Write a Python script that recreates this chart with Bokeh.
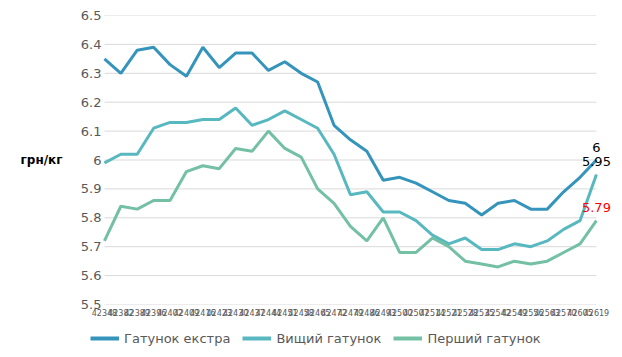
from bokeh.plotting import figure
from bokeh.layouts import column
from bokeh.models import (Range1d, FixedTicker, Legend, LegendItem, Label,
                          ColumnDataSource, LinearAxis)
from bokeh.embed import file_html
from bokeh.resources import INLINE

# ---- data ----
x_labels = ["42348", "42382", "42389", "42396", "42402", "42409", "42416", "42423",
            "42430", "42437", "42444", "42451", "42458", "42465", "42472", "42479",
            "42486", "42493", "42500", "42507", "42514", "42521", "42528", "42535",
            "42542", "42549", "42556", "42563", "42570", "42605", "42619"]
extra = [6.35, 6.30, 6.38, 6.39, 6.33, 6.29, 6.39, 6.32, 6.37, 6.37, 6.31, 6.34, 6.30, 6.27,
         6.12, 6.07, 6.03, 5.93, 5.94, 5.92, 5.89, 5.86, 5.85, 5.81, 5.85, 5.86, 5.83, 5.83,
         5.89, 5.94, 6.00]
vyshchyi = [5.99, 6.02, 6.02, 6.11, 6.13, 6.13, 6.14, 6.14, 6.18, 6.12, 6.14, 6.17, 6.14, 6.11,
            6.02, 5.88, 5.89, 5.82, 5.82, 5.79, 5.74, 5.71, 5.73, 5.69, 5.69, 5.71, 5.70, 5.72,
            5.76, 5.79, 5.95]
pershyi = [5.72, 5.84, 5.83, 5.86, 5.86, 5.96, 5.98, 5.97, 6.04, 6.03, 6.10, 6.04, 6.01, 5.90,
           5.85, 5.77, 5.72, 5.80, 5.68, 5.68, 5.73, 5.70, 5.65, 5.64, 5.63, 5.65, 5.64, 5.65,
           5.68, 5.71, 5.79]
series_names = ["Гатунок екстра", "Вищий гатунок", "Перший гатунок"]
y_ticks = [5.5, 5.6, 5.7, 5.8, 5.9, 6.0, 6.1, 6.2, 6.3, 6.4, 6.5]
y_tick_labels = ["5.5", "5.6", "5.7", "5.8", "5.9", "6", "6.1", "6.2", "6.3", "6.4", "6.5"]
end_labels = ["6", "5.95", "5.79"]
unit_label = "грн/кг"
unit_label_at = 6.0

colors = ["#3594bb", "#58b8c0", "#74c0a4"]
end_colors = ["#000000", "#000000", "#ff0000"]
FONT = "DejaVu Sans"
GREY = "#595959"

xs = list(range(len(x_labels)))
series = [extra, vyshchyi, pershyi]

p = figure(width=614, height=320, output_backend="svg", toolbar_location=None,
           x_range=Range1d(xs[0] - 0.85, xs[-1] + 0.98),
           y_range=Range1d(y_ticks[0], y_ticks[-1]))
p.min_border_left = 90
p.min_border_right = 2
p.min_border_top = 15
p.min_border_bottom = 16
p.outline_line_color = None
p.background_fill_color = "white"
p.border_fill_color = "white"

# horizontal gridlines spanning only the category extent
p.xgrid.visible = False
p.ygrid.visible = False
grid_src = ColumnDataSource(dict(x0=[xs[0]] * len(y_ticks), x1=[xs[-1]] * len(y_ticks),
                                 y=y_ticks))
p.segment(x0="x0", y0="y", x1="x1", y1="y", source=grid_src,
          line_color="#d9d9d9", line_width=1)

p.yaxis.ticker = FixedTicker(ticks=y_ticks)
p.yaxis.major_label_overrides = {v: s for v, s in zip(y_ticks, y_tick_labels)}
p.xaxis.ticker = FixedTicker(ticks=xs)
p.xaxis.major_label_overrides = {i: s for i, s in zip(xs, x_labels)}
for ax in (p.xaxis, p.yaxis):
    ax.axis_line_color = None
    ax.major_tick_line_color = None
    ax.minor_tick_line_color = None
    ax.major_tick_out = 0
    ax.major_tick_in = 0
    ax.minor_tick_out = 0
    ax.major_label_text_font = FONT
    ax.major_label_text_color = GREY
p.yaxis.major_label_text_font_size = "13px"
p.yaxis.major_label_standoff = -11
p.xaxis.major_label_text_font_size = "8px"
p.xaxis.major_label_standoff = 4

# unit label as a horizontal label on an outer left axis
unit_axis = LinearAxis(ticker=FixedTicker(ticks=[unit_label_at]),
                       major_label_overrides={unit_label_at: unit_label},
                       axis_line_color=None, major_tick_line_color=None,
                       minor_tick_line_color=None, major_tick_out=0, major_tick_in=0,
                       minor_tick_out=0, major_label_standoff=15,
                       major_label_text_font=FONT, major_label_text_font_size="12px",
                       major_label_text_font_style="bold",
                       major_label_text_color="#000000")
p.add_layout(unit_axis, "left")

for vals, name, col in zip(series, series_names, colors):
    src = ColumnDataSource(dict(x=xs, y=vals))
    p.line("x", "y", source=src, line_color=col, line_width=3)

for vals, txt, col in zip(series, end_labels, end_colors):
    p.add_layout(Label(x=xs[-1], y=vals[-1], text=txt, text_align="center",
                       text_baseline="middle", y_offset=13, text_font=FONT,
                       text_font_size="13px", text_color=col))

# legend strip below the chart (its renderers hold the same series, outside its view)
pl = figure(width=614, height=29, output_backend="svg", toolbar_location=None,
            x_range=Range1d(0, 1), y_range=Range1d(0, 1),
            x_axis_type=None, y_axis_type=None)
pl.min_border_left = 90
pl.min_border_right = 2
pl.min_border_top = 0
pl.min_border_bottom = 0
pl.outline_line_color = None
pl.xgrid.visible = False
pl.ygrid.visible = False
items = []
for vals, name, col in zip(series, series_names, colors):
    r = pl.line(x=xs, y=vals, line_color=col, line_width=4)
    items.append(LegendItem(label=name, renderers=[r]))
legend = Legend(items=items, orientation="horizontal", location=(0, 3),
                padding=0, margin=0, spacing=12, label_standoff=5,
                glyph_width=29, glyph_height=16, label_height=16,
                label_text_font=FONT, label_text_font_size="13px",
                label_text_color=GREY, border_line_color=None,
                background_fill_alpha=0)
pl.add_layout(legend)

layout = column(p, pl, spacing=0)
open("out.html", "w").write(file_html(layout, INLINE))
